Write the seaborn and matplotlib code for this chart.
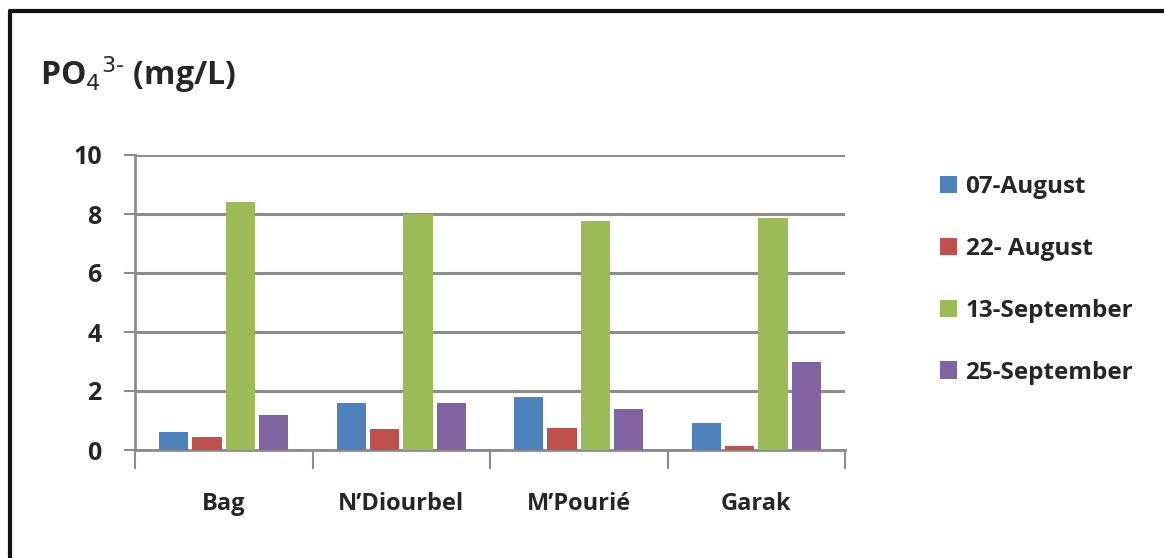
import matplotlib
matplotlib.use("Agg")
import matplotlib.pyplot as plt
import seaborn as sns
import pandas as pd
from matplotlib.lines import Line2D

categories = ["Bag", "N\u2019Diourbel", "M\u2019Pouri\u00e9", "Garak"]
series_names = ["07-August", "22- August", "13-September", "25-September"]
aug07 = [0.6, 1.6, 1.8, 0.9]
aug22 = [0.45, 0.7, 0.75, 0.15]
sep13 = [8.4, 8.0, 7.75, 7.85]
sep25 = [1.2, 1.6, 1.4, 3.0]
yticks = [0, 2, 4, 6, 8, 10]
colors = ["#4F81BD", "#C0504D", "#9BBB59", "#8064A2"]

rows = []
for name, vals in zip(series_names, [aug07, aug22, sep13, sep25]):
    for c, v in zip(categories, vals):
        rows.append({"site": c, "date": name, "value": v})
df = pd.DataFrame(rows)

sns.set_theme(style="white")
plt.rcParams["font.family"] = ["Open Sans", "DejaVu Sans"]

W, H = 1164, 558
fig = plt.figure(figsize=(W / 100, H / 100), dpi=100)
ax = fig.add_axes([135 / W, 1 - 450 / H, (845 - 135) / W, (450 - 155) / H])

sns.barplot(data=df, x="site", y="value", hue="date", order=categories,
            hue_order=series_names, palette=colors, width=0.75, gap=0.12,
            saturation=1, ax=ax, edgecolor="none", zorder=3)

ax.set_ylim(0, 10)
ax.set_xlim(-0.5, len(categories) - 0.5)
ax.set_yticks(yticks)
ax.set_yticklabels([str(t) for t in yticks], fontsize=18, fontweight="bold")
ax.set_xticks(range(len(categories)))
ax.set_xticklabels(categories, fontsize=17, fontweight="bold")
ax.tick_params(axis="x", which="major", length=0, pad=30)
ax.set_xticks([i - 0.5 for i in range(len(categories) + 1)], minor=True)
ax.tick_params(axis="x", which="minor", bottom=True, length=14, width=1.5,
               color="#8c8c8c", direction="out")
ax.tick_params(axis="y", length=8, width=1.5, color="#8c8c8c", direction="out",
               pad=16, left=True)
ax.yaxis.grid(True, color="#8c8c8c", linewidth=2.2, zorder=0)
ax.set_axisbelow(True)
for s in ["top", "right"]:
    ax.spines[s].set_visible(False)
for s in ["left", "bottom"]:
    ax.spines[s].set_color("#8c8c8c")
    ax.spines[s].set_linewidth(2)
ax.set_xlabel("")
ax.set_ylabel("")

ax.legend(loc="center left", bbox_to_anchor=((940 - 135) / (845 - 135), (450 - 280) / (450 - 155)),
          frameon=False, prop={"size": 17.5, "weight": "bold"}, handlelength=0.7,
          handleheight=0.7, labelspacing=1.55, handletextpad=0.35, borderpad=0,
          borderaxespad=0)

fig.text(40 / W, 1 - 75 / H, "PO$_4$$^{3\\text{-}}$ (mg/L)", fontsize=23, fontweight="bold",
         ha="left", va="center")

fig.lines.append(Line2D([10 / W, 10 / W], [0, 1 - 11 / H], transform=fig.transFigure,
                        color="#111111", linewidth=3))
fig.lines.append(Line2D([10 / W, 1], [1 - 11 / H, 1 - 11 / H], transform=fig.transFigure,
                        color="#111111", linewidth=3))

fig.savefig("out.png", dpi=100)
